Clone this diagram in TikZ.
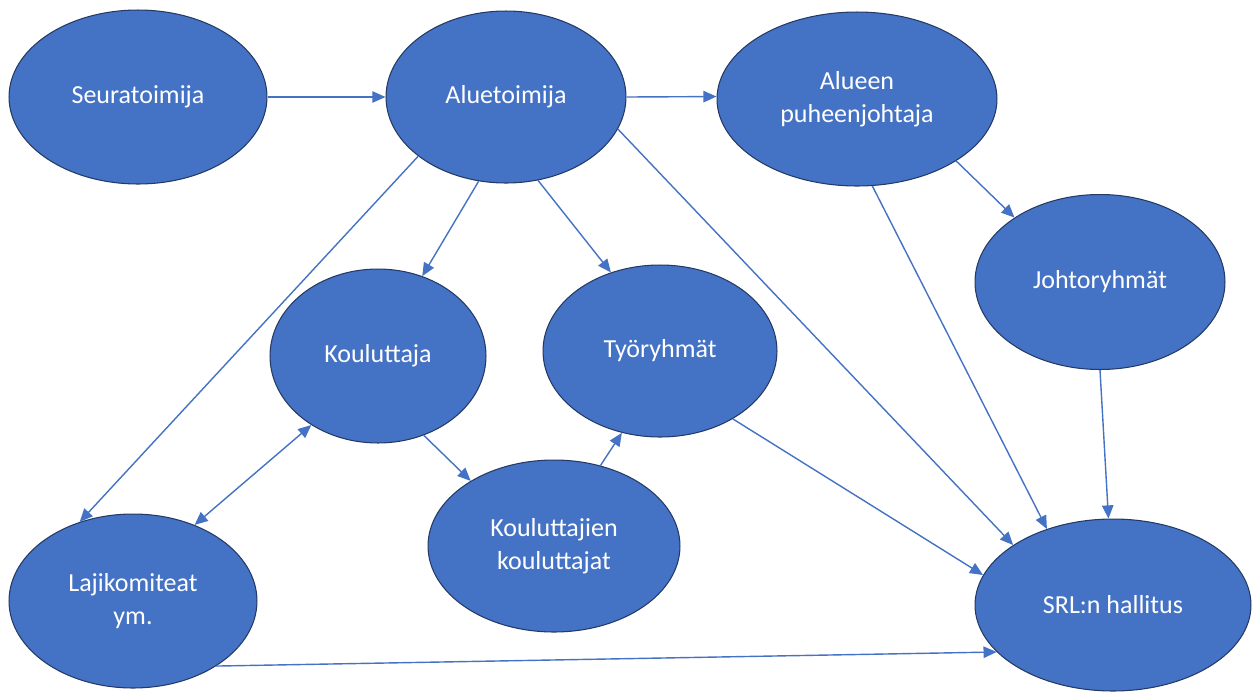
\documentclass[tikz,border=0pt]{standalone}
\usepackage{fontspec}
\setmainfont{Carlito}
\usepackage{tikz}
\usetikzlibrary{arrows.meta,shapes.geometric,positioning}
\usepackage{xcolor}
\definecolor{srblue}{RGB}{68,114,196}
\definecolor{srnavy}{RGB}{36,58,100}
\tikzstyle{arrow} = [line width=0.8pt, -{Triangle[length=7.5pt,width=6.5pt]}, color=srblue]
\tikzstyle{twoway} = [line width=0.8pt, {Triangle[length=7.5pt,width=6.5pt]}-{Triangle[length=7.5pt,width=6.5pt]}, color=srblue]
\tikzstyle{role} = [ellipse, draw=srnavy, line width=0.6pt, fill=srblue, text=white, inner sep=0pt, align=center, font=\fontsize{14.8}{19}\selectfont]

\begin{document}
\begin{tikzpicture}[x=0.02cm, y=-0.02cm]
\useasboundingbox (0,0) rectangle (1252,691);

% top row
\node (seura) [role, minimum width=5.16cm, minimum height=3.48cm] at (138,97) {Seuratoimija};
\node (alue) [role, minimum width=4.8cm, minimum height=3.44cm] at (506,97) {Aluetoimija};
\node (apj) [role, minimum width=5.6cm, minimum height=3.48cm] at (857,99) {Alueen\\puheenjohtaja};

% middle
\node (johto) [role, minimum width=5cm, minimum height=3.5cm] at (1100,282) {Johtoryhmät};
\node (koul) [role, minimum width=4.32cm, minimum height=3.48cm] at (378,356) {Kouluttaja};
\node (tyo) [role, minimum width=4.68cm, minimum height=3.44cm] at (660,351) {Työryhmät};

% bottom row
\node (kk) [role, minimum width=5.04cm, minimum height=3.44cm] at (554,546) {Kouluttajien\\kouluttajat};
\node (laji) [role, minimum width=4.96cm, minimum height=3.48cm] at (133,601) {Lajikomiteat\\ym.};
\node (srl) [role, minimum width=5.52cm, minimum height=3.44cm] at (1113,605) {SRL:n hallitus};

% connections
\draw [arrow] (seura.east) -- (alue.west);
\draw [arrow] (alue.east) -- (apj.179);
\draw [arrow] (alue.214) -- (laji.124);
\draw [arrow] (alue.252) -- (koul.61);
\draw [arrow] (alue.291) -- (tyo.122);
\draw [arrow] (alue.344) -- (srl.149);
\draw [arrow] (apj.280) -- (srl.131);
\draw [arrow] (apj.328) -- (johto.143);
\draw [arrow] (johto.south) -- (srl.93);
\draw [arrow] (tyo.317) -- (srl.167);
\draw [arrow] (koul.300) -- (kk.142);
\draw [arrow] (kk.60) -- (tyo.245);
\draw [twoway] (koul.226) -- (laji.51);
\draw [arrow] (laji.322) -- (srl.202);

\end{tikzpicture}
\end{document}
